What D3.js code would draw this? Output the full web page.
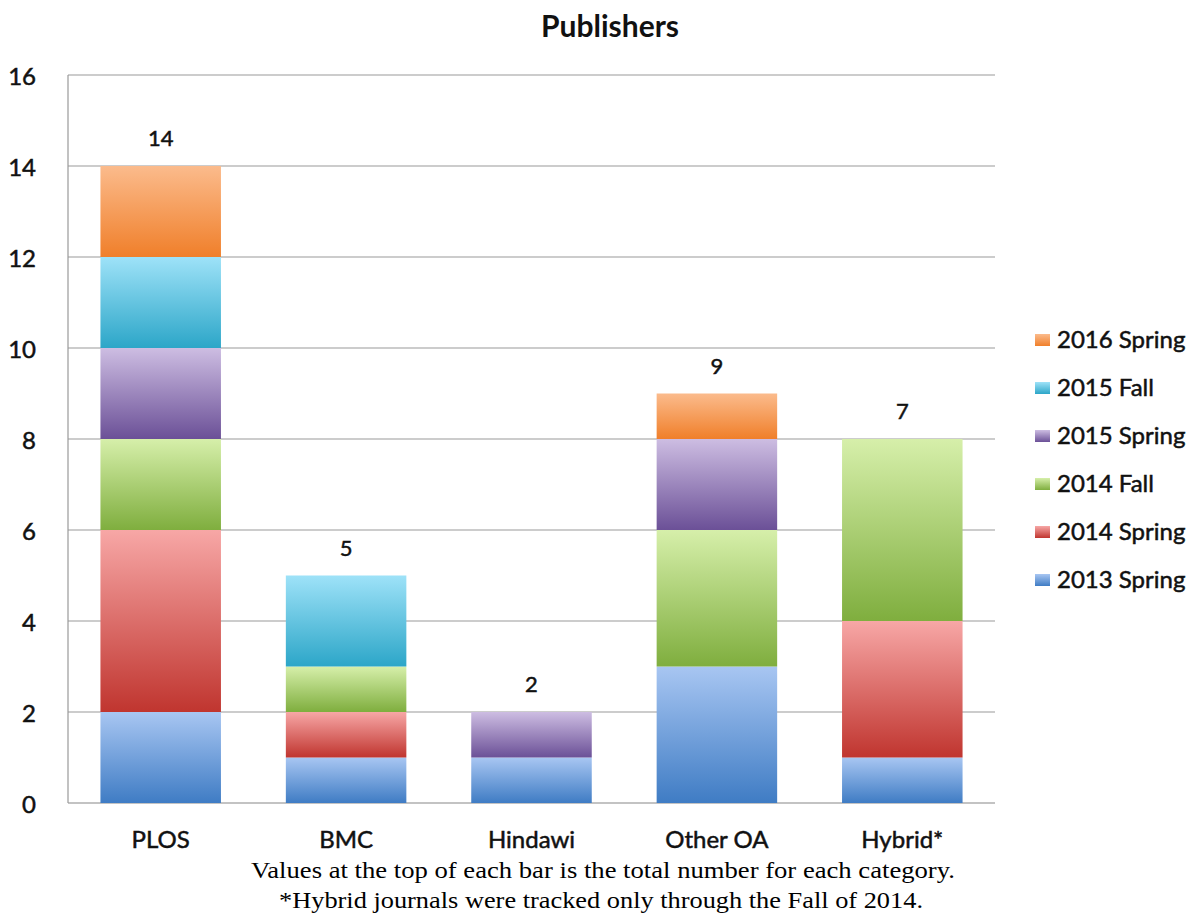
<!DOCTYPE html>
<html><head><meta charset="utf-8">
<script src="https://cdn.jsdelivr.net/npm/d3@7"></script>
<style>body{margin:0;background:#fff}svg{display:block}</style>
</head><body>
<svg id="c" width="1194" height="913"></svg>
<script>
const categories = ["PLOS","BMC","Hindawi","Other OA","Hybrid*"];
const seriesNames = ["2013 Spring","2014 Spring","2014 Fall","2015 Spring","2015 Fall","2016 Spring"];
const s2013Spring = [2,1,1,3,1];
const s2014Spring = [4,1,0,0,3];
const s2014Fall   = [2,1,0,3,4];
const s2015Spring = [2,0,1,2,0];
const s2015Fall   = [2,2,0,0,0];
const s2016Spring = [2,0,0,1,0];
const totalLabels = ["14","5","2","9","7"];
const yTicks = [0,2,4,6,8,10,12,14,16];
const colors = [
  ["#a8c6f2","#3f7cc4"],
  ["#f7a7a6","#c0352f"],
  ["#d6efaa","#7fae3e"],
  ["#cdbde2","#6b5097"],
  ["#9ee2f8","#2ca6c8"],
  ["#fbbb8c","#f07f2a"]
];

const series = [s2013Spring,s2014Spring,s2014Fall,s2015Spring,s2015Fall,s2016Spring];
const rows = categories.map((c,i)=>{const r={cat:c}; seriesNames.forEach((s,j)=>r[s]=series[j][i]); return r;});
const stacked = d3.stack().keys(seriesNames)(rows);

const svg = d3.select("#c");
const L=68,R=995,T=75,B=803;
const x = d3.scaleBand().domain(categories).range([L,R]).paddingInner(0.35).paddingOuter(0.175);
const y = d3.scaleLinear().domain([0,16]).range([B,T]);

const defs = svg.append("defs");
colors.forEach((c,i)=>{
  const g = defs.append("linearGradient").attr("id","g"+i).attr("x1",0).attr("y1",0).attr("x2",0).attr("y2",1);
  g.append("stop").attr("offset","0%").attr("stop-color",c[0]);
  g.append("stop").attr("offset","100%").attr("stop-color",c[1]);
});

// gridlines
svg.append("g").selectAll("line").data(yTicks).join("line")
  .attr("x1",L).attr("x2",R).attr("y1",d=>y(d)).attr("y2",d=>y(d))
  .attr("stroke",d=>d===0?"#888":"#999").attr("stroke-width",1.2);
svg.append("line").attr("x1",L).attr("x2",L).attr("y1",T).attr("y2",B).attr("stroke","#999").attr("stroke-width",1.2);

const font = "Lato, 'Open Sans', sans-serif";
const heavy = sel => sel.attr("stroke","#111").attr("stroke-width",0.5);

// y tick labels
heavy(svg.append("g").selectAll("text").data(yTicks).join("text")
  .attr("x",36).attr("y",d=>y(d)+10).attr("text-anchor","end")
  .attr("font-family",font).attr("font-size",24).attr("fill","#111").text(d=>d));

// bars
stacked.forEach((layer,i)=>{
  svg.append("g").selectAll("rect").data(layer.filter(d=>d[1]>d[0])).join("rect")
    .attr("x",d=>x(d.data.cat)).attr("width",x.bandwidth())
    .attr("y",d=>y(d[1])).attr("height",d=>y(d[0])-y(d[1]))
    .attr("fill","url(#g"+i+")");
});

// totals
const tops = categories.map((c,i)=>d3.sum(series,s=>s[i]));
heavy(svg.append("g").selectAll("text").data(categories).join("text")
  .attr("x",d=>x(d)+x.bandwidth()/2).attr("y",(d,i)=>y(tops[i])-20)
  .attr("text-anchor","middle").attr("font-family",font).attr("font-size",22).attr("fill","#111")
  .text((d,i)=>totalLabels[i]));

// x labels
heavy(svg.append("g").selectAll("text").data(categories).join("text")
  .attr("x",d=>x(d)+x.bandwidth()/2).attr("y",848)
  .attr("text-anchor","middle").attr("font-family",font).attr("font-size",24).attr("fill","#111")
  .text(d=>d));

// title
svg.append("text").attr("x",610).attr("y",37).attr("text-anchor","middle")
  .attr("font-family",font).attr("font-weight","bold").attr("font-size",30).attr("fill","#111").text("Publishers");

// legend
const leg = svg.append("g");
seriesNames.slice().reverse().forEach((s,k)=>{
  const i = seriesNames.length-1-k;
  const cy = 340 + k*48;
  leg.append("rect").attr("x",1035).attr("y",cy-6).attr("width",15).attr("height",12).attr("fill","url(#g"+i+")");
  heavy(leg.append("text").attr("x",1057).attr("y",cy+8)
    .attr("font-family",font).attr("font-size",24).attr("fill","#111").text(s));
});

// footnotes
svg.append("text").attr("x",603).attr("y",878).attr("text-anchor","middle")
  .attr("font-family","'Liberation Serif', 'Times New Roman', serif").attr("font-size",23).attr("fill","#000")
  .attr("textLength",704).attr("lengthAdjust","spacingAndGlyphs")
  .text("Values at the top of each bar is the total number for each category.");
svg.append("text").attr("x",601).attr("y",908).attr("text-anchor","middle")
  .attr("font-family","'Liberation Serif', 'Times New Roman', serif").attr("font-size",23).attr("fill","#000")
  .attr("textLength",644).attr("lengthAdjust","spacingAndGlyphs")
  .text("*Hybrid journals were tracked only through the Fall of 2014.");
</script>
</body></html>
